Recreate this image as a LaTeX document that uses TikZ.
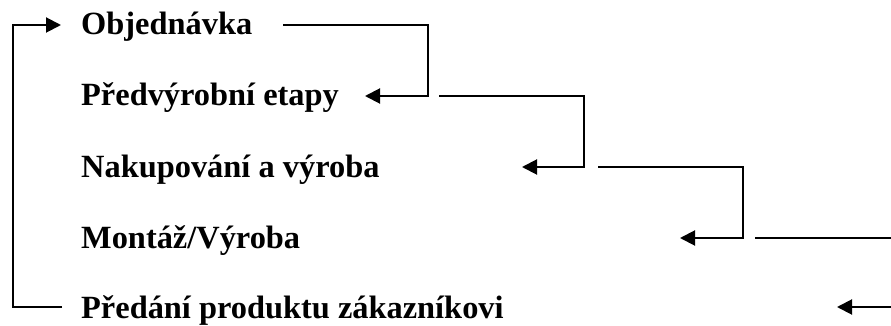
\documentclass[tikz,border=0pt]{standalone}
\usepackage{fontspec}
\setmainfont{Liberation Serif}
\usetikzlibrary{arrows.meta}

\tikzset{
  phase/.style={anchor=base west, inner sep=0pt, font=\bfseries\fontsize{32.4}{38}\selectfont},
  flow/.style={draw=black, line width=2pt, -{Triangle[length=15pt,width=15pt]}},
  link/.style={draw=black, line width=2pt}
}

\begin{document}
\begin{tikzpicture}[x=1pt,y=-1pt]
  \useasboundingbox (0,0) rectangle (891,326);
  \clip (0,0) rectangle (891,326);

  % the five stages
  \node[phase] (order)    at (81,35)  {Objednávka};
  \node[phase] (prep)     at (81,106) {Předvýrobní etapy};
  \node[phase] (purchase) at (81,177) {Nakupování a výroba};
  \node[phase] (assembly) at (81,248) {Montáž/Výroba};
  \node[phase] (handover) at (81,318) {Předání produktu zákazníkovi};

  % ends of the step arrows
  \coordinate (in1)  at (61,25);
  \coordinate (out1) at (283,25);
  \coordinate (in2)  at (365,96);
  \coordinate (out2) at (439,96);
  \coordinate (in3)  at (522,167);
  \coordinate (out3) at (598,167);
  \coordinate (in4)  at (680,238);
  \coordinate (out4) at (755,238);
  \coordinate (in5)  at (837,307);
  \coordinate (out5) at (62,307);
  \coordinate (back) at (13,25);

  % steps down the process
  \path[flow] (out1) -- ++(145,0) |- (in2);
  \path[flow] (out2) -- ++(145,0) |- (in3);
  \path[flow] (out3) -- ++(145,0) |- (in4);
  \path[flow] (out4) -- ++(160,0) |- (in5);

  % back to the next order
  \path[flow] (out5) -| (back) -- (in1);
\end{tikzpicture}
\end{document}
